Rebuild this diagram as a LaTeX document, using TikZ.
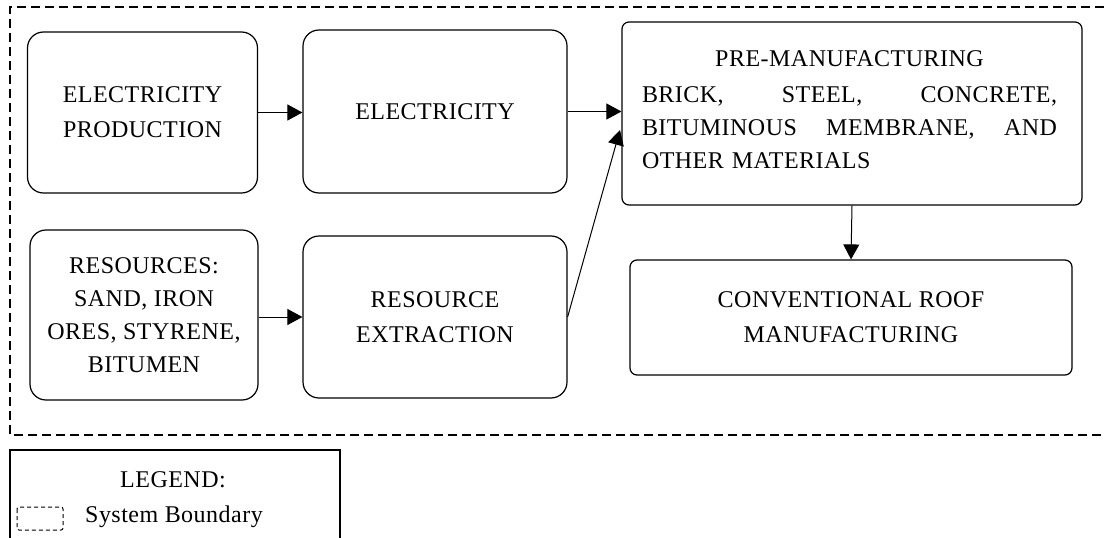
\documentclass[tikz,border=0pt]{standalone}
\usepackage{fontspec}
\setmainfont{Liberation Serif}[LetterSpace=2]
\usetikzlibrary{arrows.meta}

\tikzset{
  bloco/.style={draw, line width=1.2pt, rounded corners=16pt, align=center, inner sep=0pt},
  caixa/.style={draw, line width=1.2pt, rounded corners=7pt, align=center, inner sep=0pt},
  seta/.style={line width=1pt, -{Triangle[length=15pt,width=16pt]}},
  limite/.style={line width=1.3pt, dash pattern=on 9pt off 5pt},
}

\begin{document}
\begin{tikzpicture}[x=1pt,y=-1pt,font=\fontsize{24}{35}\selectfont]

\useasboundingbox (0,0) rectangle (1104,538);

% fronteira do sistema
\draw[limite] (1104,7) -- (10,7) -- (10,435) -- (1104,435);

% processos
\node[bloco, minimum width=230, minimum height=161] (prod) at (142.5,112.5) {ELECTRICITY\\PRODUCTION};
\node[bloco, minimum width=264, minimum height=163] (elec) at (435,111.5) {ELECTRICITY};
\node[caixa, minimum width=460, minimum height=183] (preman) at (852,113.5) {};
\node[text width=415pt, align=center, inner sep=0pt] (premantxt) at (849.5,110)
  {PRE-MANUFACTURING\\[1pt]
   \leavevmode\hbox to 415pt{BRICK,\hfill STEEL,\hfill CONCRETE,}\\[-2pt]
   \leavevmode\hbox to 415pt{BITUMINOUS\hfill MEMBRANE,\hfill AND}\\[-2pt]
   \leavevmode\hbox to 415pt{OTHER MATERIALS\hfill}};
\node[caixa, minimum width=442, minimum height=115] (roof) at (851,317.5) {CONVENTIONAL ROOF\\MANUFACTURING};
\node[bloco, minimum width=228, minimum height=170, font=\fontsize{24}{33}\selectfont] (res) at (144,315) {RESOURCES:\\SAND, IRON\\ORES, STYRENE,\\BITUMEN};
\node[bloco, minimum width=264, minimum height=162] (extr) at (435,317) {RESOURCE\\EXTRACTION};

\coordinate (entrada) at (620,130);

% fluxos
\draw[seta] (prod.east) -- (prod.east -| elec.west);
\draw[seta] (elec.east) -- (elec.east -| preman.west);
\draw[seta] (extr.west -| res.east) -- (extr.west);
\draw[seta] (extr.east) -- (entrada);
\draw[seta] (preman.south) -- (roof.north);

% legenda
\node[draw, line width=1.2pt, minimum width=330, minimum height=100, inner sep=0pt] (legenda) at (175,500) {};
\node (legtit) at (173,480) {LEGEND:};
\node (legsb) at (174,517) {System Boundary};
\draw[line width=1pt, dash pattern=on 4pt off 3pt, rounded corners=2pt] (17,507) rectangle (63,530);

\end{tikzpicture}
\end{document}
